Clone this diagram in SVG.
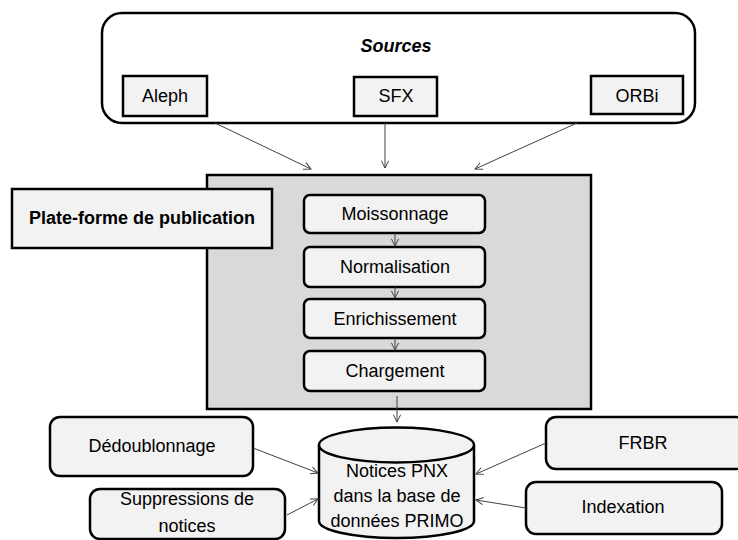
<svg xmlns="http://www.w3.org/2000/svg" width="738" height="540" viewBox="0 0 738 540">
<defs>
<style>
.box{fill:#f2f2f2;stroke:#000;stroke-width:2.5}
.t{font-family:"Liberation Sans",Arial,sans-serif;font-size:18px;fill:#000;text-anchor:middle}
.c{stroke:#404040;stroke-width:1;fill:none;marker-end:url(#ah)}
</style>
<marker id="ah" viewBox="0 0 10 10" refX="9" refY="5" markerWidth="9" markerHeight="9" markerUnits="userSpaceOnUse" orient="auto">
<path d="M1,1 L9,5 L1,9" fill="none" stroke="#404040" stroke-width="1.1"/>
</marker>
</defs>
<rect width="738" height="540" fill="#fff"/>
<g id="sources">
<rect x="102" y="13" width="593" height="110" rx="20" fill="#fff" stroke="#000" stroke-width="2.5"/>
<text class="t" x="396" y="52" font-weight="bold" font-style="italic">Sources</text>
</g>
<g id="aleph"><rect class="box" x="123" y="76" width="84" height="40"/><text class="t" x="165" y="102">Aleph</text></g>
<g id="sfx"><rect class="box" x="354" y="77" width="83" height="39"/><text class="t" x="396" y="102">SFX</text></g>
<g id="orbi"><rect class="box" x="591" y="76" width="92" height="38"/><text class="t" x="637" y="102">ORBi</text></g>
<g id="plateforme">
<rect x="207" y="175" width="384" height="234" fill="#d9d9d9" stroke="#000" stroke-width="2.5"/>
</g>
<g id="plateforme-label"><rect class="box" x="12" y="189" width="260" height="59"/><text class="t" x="142" y="224" font-weight="bold" font-size="17">Plate-forme de publication</text></g>
<g id="moissonnage"><rect class="box" x="304" y="195" width="181" height="38" rx="6"/><text class="t" x="395" y="220">Moissonnage</text></g>
<g id="normalisation"><rect class="box" x="304" y="247" width="181" height="40" rx="6"/><text class="t" x="395" y="273">Normalisation</text></g>
<g id="enrichissement"><rect class="box" x="304" y="299" width="181" height="39" rx="6"/><text class="t" x="395" y="325">Enrichissement</text></g>
<g id="chargement"><rect class="box" x="304" y="351" width="181" height="40" rx="6"/><text class="t" x="395" y="377">Chargement</text></g>
<g id="primo">
<path class="box" d="M319,445 L319,521 A77.5,17 0 0 0 474,521 L474,445"/>
<ellipse class="box" cx="396.5" cy="445" rx="77.5" ry="17.5"/>
<text class="t" x="397" y="477">Notices PNX</text>
<text class="t" x="397" y="502">dans la base de</text>
<text class="t" x="397" y="527">données PRIMO</text>
</g>
<g id="dedoublonnage"><rect class="box" x="50" y="417" width="203" height="59" rx="10"/><text class="t" x="152" y="452">Dédoublonnage</text></g>
<g id="suppressions"><rect class="box" x="90" y="489" width="195" height="50" rx="10"/><text class="t" x="187" y="505">Suppressions de</text><text class="t" x="187" y="532">notices</text></g>
<g id="frbr"><rect class="box" x="546" y="417" width="200" height="52" rx="10"/><text class="t" x="643" y="449">FRBR</text></g>
<g id="indexation"><rect class="box" x="526" y="482" width="196" height="52" rx="10"/><text class="t" x="623" y="513">Indexation</text></g>
<g id="connectors">
<line class="c" x1="215" y1="123" x2="311" y2="169"/>
<line class="c" x1="385" y1="123" x2="385" y2="168"/>
<line class="c" x1="577" y1="123" x2="475" y2="169"/>
<line class="c" x1="395" y1="233" x2="395" y2="246"/>
<line class="c" x1="395" y1="287" x2="395" y2="298"/>
<line class="c" x1="395" y1="338" x2="395" y2="350"/>
<line class="c" x1="397" y1="396" x2="397" y2="422"/>
<line class="c" x1="253" y1="448" x2="318" y2="473"/>
<line class="c" x1="287" y1="515" x2="318" y2="499"/>
<line class="c" x1="546" y1="443" x2="476" y2="474"/>
<line class="c" x1="526" y1="508" x2="476" y2="500"/>
</g>
</svg>
